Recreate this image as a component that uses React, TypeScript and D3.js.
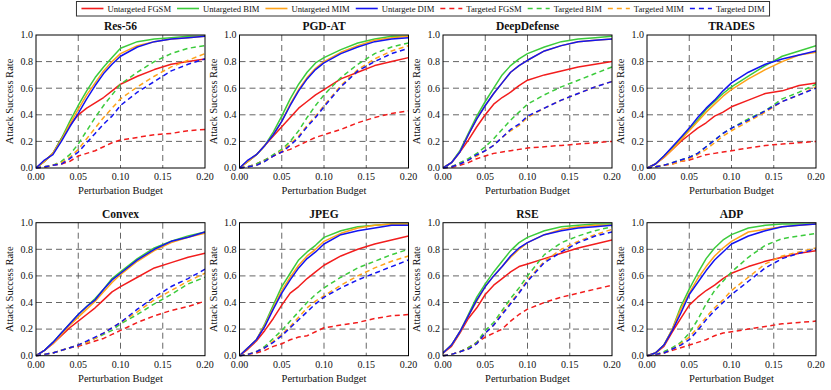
import * as d3 from 'd3'

// perturbation budgets sampled along x
const budgets = [0, 0.01, 0.02, 0.03, 0.04, 0.05, 0.06, 0.07, 0.08, 0.09, 0.1, 0.12, 0.14, 0.16, 0.18, 0.2]

const attackNames = [
  'Untargeted FGSM', 'Untargeted BIM', 'Untargeted MIM', 'Untargete DIM',
  'Targeted FGSM', 'Targeted BIM', 'Targeted MIM', 'Targeted DIM',
]
const attackColors = ['#f21d1d', '#3ccb3c', '#ffa31a', '#1414f0', '#f21d1d', '#3ccb3c', '#ffa31a', '#1414f0']
const attackDashed = [false, false, false, false, true, true, true, true]

const panelTitles = ['Res-56', 'PGD-AT', 'DeepDefense', 'TRADES', 'Convex', 'JPEG', 'RSE', 'ADP']
const xTicks = [0, 0.05, 0.1, 0.15, 0.2]
const yTicks = [0, 0.2, 0.4, 0.6, 0.8, 1.0]

// one row per attack, same order as attackNames
const res56 = [
  [0, 0.05, 0.11, 0.22, 0.32, 0.40, 0.45, 0.49, 0.53, 0.58, 0.63, 0.69, 0.74, 0.78, 0.80, 0.82],
  [0, 0.05, 0.11, 0.22, 0.35, 0.47, 0.58, 0.68, 0.76, 0.83, 0.90, 0.95, 0.97, 0.98, 0.99, 0.99],
  [0, 0.05, 0.11, 0.21, 0.33, 0.44, 0.55, 0.64, 0.73, 0.80, 0.86, 0.92, 0.95, 0.97, 0.98, 0.99],
  [0, 0.06, 0.10, 0.20, 0.31, 0.41, 0.52, 0.62, 0.71, 0.78, 0.84, 0.91, 0.95, 0.97, 0.98, 0.99],
  [0, 0.005, 0.02, 0.03, 0.05, 0.09, 0.11, 0.13, 0.16, 0.19, 0.21, 0.23, 0.25, 0.26, 0.28, 0.29],
  [0, 0.01, 0.02, 0.05, 0.10, 0.18, 0.28, 0.38, 0.47, 0.55, 0.63, 0.72, 0.80, 0.86, 0.90, 0.92],
  [0, 0.01, 0.02, 0.04, 0.08, 0.14, 0.22, 0.30, 0.38, 0.45, 0.52, 0.61, 0.69, 0.76, 0.81, 0.86],
  [0, 0.01, 0.02, 0.03, 0.07, 0.12, 0.19, 0.26, 0.33, 0.39, 0.47, 0.57, 0.65, 0.73, 0.78, 0.82],
]
const pgdAt = [
  [0, 0.05, 0.10, 0.17, 0.24, 0.31, 0.38, 0.45, 0.50, 0.55, 0.59, 0.67, 0.72, 0.77, 0.80, 0.83],
  [0, 0.05, 0.10, 0.17, 0.27, 0.39, 0.52, 0.63, 0.72, 0.79, 0.83, 0.89, 0.94, 0.97, 0.99, 0.99],
  [0, 0.05, 0.10, 0.17, 0.25, 0.35, 0.48, 0.59, 0.68, 0.75, 0.80, 0.87, 0.92, 0.96, 0.98, 0.99],
  [0, 0.06, 0.10, 0.17, 0.25, 0.35, 0.47, 0.58, 0.67, 0.74, 0.79, 0.86, 0.91, 0.95, 0.97, 0.98],
  [0, 0.01, 0.03, 0.06, 0.09, 0.12, 0.14, 0.17, 0.20, 0.23, 0.25, 0.29, 0.34, 0.38, 0.41, 0.43],
  [0, 0.01, 0.03, 0.06, 0.10, 0.14, 0.20, 0.28, 0.38, 0.47, 0.55, 0.68, 0.78, 0.86, 0.91, 0.94],
  [0, 0.01, 0.02, 0.05, 0.09, 0.13, 0.18, 0.24, 0.32, 0.39, 0.47, 0.62, 0.74, 0.82, 0.88, 0.92],
  [0, 0.01, 0.02, 0.05, 0.09, 0.12, 0.17, 0.23, 0.31, 0.38, 0.46, 0.61, 0.73, 0.80, 0.86, 0.90],
]
const deepDefense = [
  [0, 0.04, 0.12, 0.21, 0.31, 0.40, 0.48, 0.53, 0.57, 0.62, 0.66, 0.70, 0.73, 0.76, 0.78, 0.80],
  [0, 0.04, 0.13, 0.26, 0.39, 0.50, 0.60, 0.70, 0.77, 0.82, 0.86, 0.91, 0.95, 0.97, 0.98, 0.99],
  [0, 0.04, 0.12, 0.25, 0.37, 0.47, 0.56, 0.64, 0.72, 0.77, 0.81, 0.88, 0.92, 0.95, 0.96, 0.97],
  [0, 0.04, 0.12, 0.25, 0.37, 0.47, 0.56, 0.64, 0.72, 0.77, 0.81, 0.88, 0.92, 0.95, 0.96, 0.97],
  [0, 0.005, 0.02, 0.04, 0.07, 0.09, 0.11, 0.12, 0.13, 0.14, 0.15, 0.16, 0.17, 0.18, 0.19, 0.20],
  [0, 0.01, 0.04, 0.07, 0.11, 0.16, 0.22, 0.29, 0.36, 0.42, 0.48, 0.55, 0.61, 0.66, 0.71, 0.76],
  [0, 0.01, 0.03, 0.06, 0.09, 0.13, 0.17, 0.23, 0.28, 0.32, 0.38, 0.45, 0.51, 0.56, 0.61, 0.65],
  [0, 0.01, 0.03, 0.06, 0.10, 0.13, 0.17, 0.23, 0.29, 0.33, 0.39, 0.45, 0.51, 0.56, 0.61, 0.65],
]
const trades = [
  [0, 0.03, 0.08, 0.14, 0.20, 0.25, 0.30, 0.34, 0.39, 0.42, 0.46, 0.51, 0.56, 0.58, 0.62, 0.64],
  [0, 0.03, 0.09, 0.15, 0.22, 0.29, 0.36, 0.44, 0.50, 0.56, 0.61, 0.69, 0.77, 0.84, 0.88, 0.92],
  [0, 0.03, 0.08, 0.14, 0.21, 0.28, 0.35, 0.42, 0.48, 0.54, 0.59, 0.67, 0.74, 0.80, 0.85, 0.87],
  [0, 0.03, 0.09, 0.16, 0.23, 0.30, 0.38, 0.45, 0.51, 0.58, 0.64, 0.72, 0.78, 0.82, 0.85, 0.88],
  [0, 0.01, 0.02, 0.03, 0.05, 0.06, 0.08, 0.10, 0.11, 0.12, 0.13, 0.15, 0.17, 0.18, 0.19, 0.20],
  [0, 0.01, 0.02, 0.04, 0.06, 0.08, 0.11, 0.16, 0.21, 0.26, 0.30, 0.37, 0.43, 0.52, 0.57, 0.63],
  [0, 0.01, 0.02, 0.03, 0.05, 0.07, 0.10, 0.14, 0.19, 0.24, 0.28, 0.35, 0.42, 0.50, 0.55, 0.61],
  [0, 0.01, 0.02, 0.04, 0.06, 0.08, 0.11, 0.16, 0.21, 0.26, 0.30, 0.36, 0.43, 0.50, 0.55, 0.60],
]
const convex = [
  [0, 0.04, 0.09, 0.15, 0.21, 0.26, 0.31, 0.36, 0.42, 0.48, 0.52, 0.59, 0.66, 0.70, 0.74, 0.77],
  [0, 0.04, 0.10, 0.17, 0.24, 0.31, 0.37, 0.43, 0.50, 0.58, 0.63, 0.73, 0.81, 0.86, 0.90, 0.93],
  [0, 0.04, 0.09, 0.16, 0.23, 0.29, 0.35, 0.41, 0.48, 0.55, 0.61, 0.71, 0.79, 0.85, 0.89, 0.92],
  [0, 0.04, 0.10, 0.17, 0.24, 0.31, 0.37, 0.42, 0.50, 0.57, 0.62, 0.72, 0.80, 0.86, 0.89, 0.93],
  [0, 0.01, 0.02, 0.04, 0.06, 0.07, 0.09, 0.11, 0.13, 0.16, 0.19, 0.25, 0.30, 0.34, 0.37, 0.41],
  [0, 0.01, 0.02, 0.04, 0.06, 0.08, 0.10, 0.13, 0.16, 0.19, 0.24, 0.31, 0.39, 0.46, 0.54, 0.59],
  [0, 0.01, 0.02, 0.04, 0.06, 0.08, 0.10, 0.13, 0.17, 0.21, 0.25, 0.33, 0.42, 0.49, 0.56, 0.62],
  [0, 0.01, 0.02, 0.04, 0.06, 0.08, 0.11, 0.14, 0.17, 0.21, 0.25, 0.35, 0.44, 0.52, 0.58, 0.65],
]
const jpeg = [
  [0, 0.05, 0.11, 0.19, 0.28, 0.38, 0.47, 0.52, 0.58, 0.63, 0.68, 0.75, 0.80, 0.84, 0.87, 0.90],
  [0, 0.06, 0.12, 0.24, 0.38, 0.52, 0.62, 0.72, 0.78, 0.83, 0.89, 0.94, 0.97, 0.98, 0.99, 0.99],
  [0, 0.06, 0.12, 0.23, 0.36, 0.49, 0.59, 0.68, 0.75, 0.80, 0.86, 0.92, 0.96, 0.98, 0.99, 0.99],
  [0, 0.06, 0.12, 0.22, 0.35, 0.47, 0.57, 0.66, 0.73, 0.78, 0.84, 0.91, 0.94, 0.96, 0.98, 0.98],
  [0, 0.01, 0.02, 0.04, 0.07, 0.09, 0.12, 0.14, 0.15, 0.18, 0.21, 0.23, 0.25, 0.28, 0.30, 0.31],
  [0, 0.01, 0.03, 0.07, 0.13, 0.19, 0.26, 0.33, 0.40, 0.46, 0.51, 0.59, 0.66, 0.71, 0.76, 0.80],
  [0, 0.01, 0.03, 0.06, 0.11, 0.16, 0.22, 0.29, 0.36, 0.41, 0.45, 0.53, 0.60, 0.66, 0.71, 0.75],
  [0, 0.01, 0.03, 0.06, 0.10, 0.15, 0.21, 0.27, 0.33, 0.39, 0.44, 0.51, 0.57, 0.62, 0.67, 0.72],
]
const rse = [
  [0.02, 0.07, 0.17, 0.28, 0.36, 0.46, 0.53, 0.58, 0.63, 0.67, 0.69, 0.73, 0.77, 0.81, 0.84, 0.87],
  [0.02, 0.08, 0.18, 0.31, 0.44, 0.54, 0.63, 0.71, 0.79, 0.85, 0.89, 0.94, 0.97, 0.98, 0.99, 0.99],
  [0.02, 0.08, 0.18, 0.30, 0.41, 0.52, 0.60, 0.67, 0.74, 0.80, 0.85, 0.91, 0.95, 0.97, 0.98, 0.98],
  [0.02, 0.08, 0.18, 0.30, 0.42, 0.52, 0.60, 0.67, 0.75, 0.81, 0.85, 0.91, 0.94, 0.96, 0.97, 0.98],
  [0, 0.01, 0.03, 0.06, 0.10, 0.14, 0.17, 0.20, 0.26, 0.31, 0.35, 0.40, 0.44, 0.47, 0.50, 0.53],
  [0, 0.01, 0.03, 0.06, 0.10, 0.19, 0.25, 0.34, 0.43, 0.51, 0.60, 0.76, 0.85, 0.90, 0.94, 0.97],
  [0, 0.01, 0.03, 0.05, 0.09, 0.17, 0.23, 0.32, 0.40, 0.48, 0.57, 0.71, 0.80, 0.86, 0.91, 0.95],
  [0, 0.01, 0.03, 0.05, 0.09, 0.17, 0.23, 0.31, 0.39, 0.47, 0.56, 0.70, 0.78, 0.85, 0.90, 0.93],
]
const adp = [
  [0, 0.02, 0.07, 0.18, 0.28, 0.38, 0.44, 0.49, 0.53, 0.58, 0.62, 0.67, 0.71, 0.74, 0.77, 0.79],
  [0, 0.02, 0.08, 0.20, 0.37, 0.50, 0.62, 0.73, 0.81, 0.87, 0.91, 0.96, 0.98, 0.99, 0.99, 0.99],
  [0, 0.02, 0.08, 0.20, 0.35, 0.47, 0.58, 0.67, 0.75, 0.81, 0.86, 0.93, 0.95, 0.97, 0.98, 0.99],
  [0, 0.02, 0.08, 0.19, 0.32, 0.46, 0.55, 0.64, 0.72, 0.78, 0.84, 0.90, 0.94, 0.97, 0.98, 0.99],
  [0, 0.005, 0.02, 0.04, 0.06, 0.08, 0.10, 0.12, 0.15, 0.17, 0.18, 0.20, 0.22, 0.24, 0.25, 0.26],
  [0, 0.01, 0.03, 0.06, 0.10, 0.17, 0.27, 0.39, 0.49, 0.56, 0.63, 0.74, 0.83, 0.88, 0.90, 0.92],
  [0, 0.01, 0.02, 0.05, 0.09, 0.14, 0.21, 0.29, 0.36, 0.42, 0.49, 0.59, 0.69, 0.75, 0.78, 0.81],
  [0, 0.01, 0.02, 0.05, 0.08, 0.12, 0.19, 0.27, 0.34, 0.40, 0.46, 0.56, 0.66, 0.73, 0.77, 0.80],
]

const panelData = [res56, pgdAt, deepDefense, trades, convex, jpeg, rse, adp]

const FONT = '"Liberation Serif", "Times New Roman", serif'
const W = 831
const H = 390
const plotW = 169
const plotH = 133
const colLeft = [36, 239.5, 443, 647]
const rowTop = [35, 222.7]

const legendFontSize = 8.6

function measure(text: string, size: number) {
  const ctx = document.createElement('canvas').getContext('2d')
  if (!ctx) return text.length * size * 0.42
  ctx.font = `${size}px ${FONT}`
  return ctx.measureText(text).width
}

const txt = { fontFamily: FONT, fill: '#111' }

function Legend() {
  const lineLen = 22
  const gapAfterLine = 4
  const gapAfterText = 6
  const widths = attackNames.map((n) => measure(n, legendFontSize))
  const total = d3.sum(widths) + attackNames.length * (lineLen + gapAfterLine + gapAfterText) - gapAfterText
  const start = 423 - total / 2
  let cursor = start
  const items = attackNames.map((name, i) => {
    const x = cursor
    cursor += lineLen + gapAfterLine + widths[i] + gapAfterText
    return { name, x, i }
  })
  return (
    <g>
      <rect x={start - 5} y={1.5} width={total + 10} height={14.5} fill="white" stroke="#333" strokeWidth={1} />
      {items.map(({ name, x, i }) => (
        <g key={name}>
          <line
            x1={x}
            x2={x + lineLen}
            y1={8.5}
            y2={8.5}
            stroke={attackColors[i]}
            strokeWidth={1.6}
            strokeDasharray={attackDashed[i] ? '5,4' : undefined}
          />
          <text x={x + lineLen + gapAfterLine} y={11.6} fontSize={legendFontSize} style={txt}>
            {name}
          </text>
        </g>
      ))}
    </g>
  )
}

function Panel({ index }: { index: number }) {
  const left = colLeft[index % 4]
  const top = rowTop[Math.floor(index / 4)]
  const x = d3.scaleLinear().domain([0, 0.2]).range([0, plotW])
  const y = d3.scaleLinear().domain([0, 1]).range([plotH, 0])
  const line = d3
    .line<number>()
    .x((_, i) => x(budgets[i]))
    .y((d) => y(d))
  const series = panelData[index]
  const clipId = `clip-${index}`

  return (
    <g transform={`translate(${left},${top})`}>
      <defs>
        <clipPath id={clipId}>
          <rect x={0} y={-1} width={plotW} height={plotH + 2} />
        </clipPath>
      </defs>
      {xTicks.slice(1, -1).map((t) => (
        <line key={`gx${t}`} x1={x(t)} x2={x(t)} y1={0} y2={plotH} stroke="#555" strokeWidth={0.9} strokeDasharray="6,4" />
      ))}
      {yTicks.slice(1, -1).map((t) => (
        <line key={`gy${t}`} x1={0} x2={plotW} y1={y(t)} y2={y(t)} stroke="#555" strokeWidth={0.9} strokeDasharray="6,4" />
      ))}
      <g clipPath={`url(#${clipId})`}>
        {series.map((vals, i) => (
          <path
            key={i}
            d={line(vals) ?? ''}
            fill="none"
            stroke={attackColors[i]}
            strokeWidth={1.5}
            strokeDasharray={attackDashed[i] ? '5,3.5' : undefined}
            strokeLinejoin="round"
          />
        ))}
      </g>
      <rect x={0} y={0} width={plotW} height={plotH} fill="none" stroke="#000" strokeWidth={1} />
      {xTicks.map((t) => (
        <text key={`tx${t}`} x={x(t)} y={plotH + 12} textAnchor="middle" fontSize={10} style={txt}>
          {t.toFixed(2)}
        </text>
      ))}
      {yTicks.map((t) => (
        <text key={`ty${t}`} x={-3} y={y(t) + 3.3} textAnchor="end" fontSize={10} style={txt}>
          {t.toFixed(1)}
        </text>
      ))}
      <text x={plotW / 2} y={-5} textAnchor="middle" fontSize={11.5} fontWeight="bold" style={txt}>
        {panelTitles[index]}
      </text>
      <text x={plotW / 2} y={plotH + 26} textAnchor="middle" fontSize={10.5} style={txt}>
        Perturbation Budget
      </text>
      <text transform={`translate(${-23},${plotH / 2}) rotate(-90)`} textAnchor="middle" fontSize={10.5} style={txt}>
        Attack Success Rate
      </text>
    </g>
  )
}

export default function App() {
  return (
    <svg width={W} height={H} style={{ position: 'absolute', left: 0, top: 0, background: 'white' }}>
      <Legend />
      {panelTitles.map((t, i) => (
        <Panel key={t} index={i} />
      ))}
    </svg>
  )
}
